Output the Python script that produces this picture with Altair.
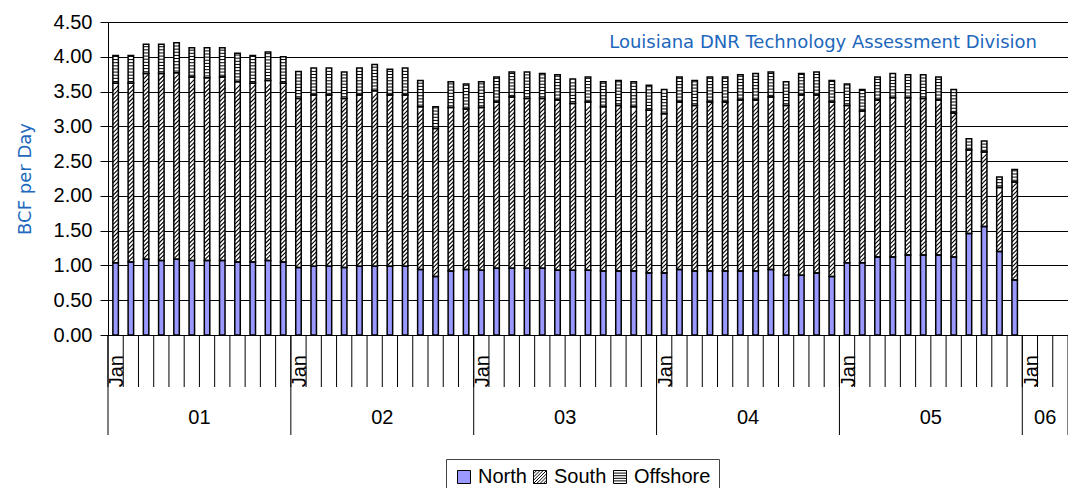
import altair as alt
import numpy as np
import pandas as pd

# ---------------- data ----------------
years = ["01", "02", "03", "04", "05", "06"]
months_per_year = [12, 12, 12, 12, 12, 3]
categories = [f"20{y}-{m:02d}" for y, n in zip(years, months_per_year) for m in range(1, n + 1)]
month_label = "Jan"

north = [1.04, 1.05, 1.09, 1.07, 1.09, 1.07, 1.07, 1.07, 1.05, 1.05, 1.07, 1.05,
         0.97, 0.99, 0.99, 0.97, 0.99, 0.99, 0.99, 0.99, 0.94, 0.84, 0.92, 0.94,
         0.93, 0.96, 0.96, 0.96, 0.96, 0.93, 0.93, 0.93, 0.92, 0.92, 0.92, 0.89,
         0.89, 0.94, 0.92, 0.92, 0.92, 0.92, 0.92, 0.94, 0.86, 0.86, 0.89, 0.84,
         1.04, 1.04, 1.12, 1.12, 1.15, 1.15, 1.15, 1.12, 1.46, 1.56, 1.20, 0.79]
south = [2.58, 2.57, 2.67, 2.69, 2.68, 2.64, 2.63, 2.64, 2.59, 2.57, 2.59, 2.57,
         2.43, 2.46, 2.46, 2.43, 2.46, 2.52, 2.46, 2.46, 2.34, 2.13, 2.35, 2.31,
         2.34, 2.39, 2.46, 2.44, 2.44, 2.45, 2.40, 2.42, 2.36, 2.38, 2.36, 2.34,
         2.29, 2.41, 2.38, 2.43, 2.43, 2.46, 2.46, 2.48, 2.44, 2.59, 2.56, 2.51,
         2.26, 2.18, 2.26, 2.29, 2.26, 2.25, 2.23, 2.07, 1.20, 1.07, 0.92, 1.41]
offshore = [0.40, 0.40, 0.42, 0.42, 0.43, 0.42, 0.43, 0.42, 0.41, 0.40, 0.41, 0.38,
            0.39, 0.39, 0.39, 0.38, 0.39, 0.38, 0.37, 0.39, 0.38, 0.31, 0.37, 0.36,
            0.37, 0.36, 0.36, 0.38, 0.36, 0.36, 0.35, 0.36, 0.36, 0.36, 0.36, 0.36,
            0.35, 0.36, 0.36, 0.36, 0.36, 0.36, 0.38, 0.36, 0.34, 0.31, 0.33, 0.31,
            0.31, 0.31, 0.33, 0.35, 0.33, 0.34, 0.33, 0.34, 0.16, 0.16, 0.15, 0.18]

series_names = ["North", "South", "Offshore"]
series_fill = ["#9999FF", "#FFFFFF", "#FFFFFF"]
y_tick_values = [0.0, 0.5, 1.0, 1.5, 2.0, 2.5, 3.0, 3.5, 4.0, 4.5]
title_text = "Louisiana DNR Technology Assessment Division"
y_title = "BCF per Day"

BLUE = "#2167BC"
FONT = "Liberation Sans"

# ---------------- derived tables ----------------
bar_rows = []
diag_rows = []
stripe_rows = []
for cat, n, s, o in zip(categories, north, south, offshore):
    base = 0.0
    for name, v in zip(series_names, (n, s, o)):
        bar_rows.append(dict(cat=cat, series=name, y0=base, y1=base + v))
        base += v
    for y in np.arange(n + 0.045, n + s - 0.045 + 1e-9, 0.06):
        diag_rows.append(dict(cat=cat, y1=float(y)))
    for y in np.arange(n + s + 0.025, n + s + o - 0.015, 0.045):
        stripe_rows.append(dict(cat=cat, y1=float(y)))

bars_df = pd.DataFrame(bar_rows)
diag_df = pd.DataFrame(diag_rows)
stripe_df = pd.DataFrame(stripe_rows)
legend_df = pd.DataFrame(dict(cat=[categories[0]] * 3, y1=[0.5] * 3, series=series_names))
tick_df = pd.DataFrame(dict(cat=categories))
jan_df = pd.DataFrame(dict(cat=[f"20{y}-01" for y in years], label=[month_label] * len(years)))
sep_df = pd.DataFrame(dict(cat=[f"20{y}-01" for y in years]))
end_df = pd.DataFrame(dict(cat=[categories[-1]]))
yr_df = pd.DataFrame(dict(cat=[f"20{y}-07" for y in years[:-1]], label=years[:-1]))
yr06_df = pd.DataFrame(dict(cat=["2006-02"], label=[years[-1]]))
title_df = pd.DataFrame(dict(t=[title_text]))

# ---------------- scales / axes ----------------
x_scale = alt.Scale(type="band", domain=categories, paddingInner=0, paddingOuter=0)
y_scale = alt.Scale(domain=[0, 4.5], nice=False, zero=True)
fill_scale = alt.Scale(domain=series_names, range=series_fill)
stroke_scale = alt.Scale(domain=series_names, range=["#000000", "#000000", "#000000"])
shape_scale = alt.Scale(
    domain=series_names,
    range=[
        "square",
        "M-1,-1L1,-1L1,1L-1,1Z M-1,-0.5L-0.5,-1 M-1,0L0,-1 M-1,0.5L0.5,-1 M-1,1L1,-1 "
        "M-0.5,1L1,-0.5 M0,1L1,0 M0.5,1L1,0.5",
        "M-1,-1L1,-1L1,1L-1,1Z M-1,-0.6L1,-0.6 M-1,-0.2L1,-0.2 M-1,0.2L1,0.2 M-1,0.6L1,0.6",
    ],
)

y_axis = alt.Axis(
    title=y_title, values=y_tick_values, format=".2f", grid=True, gridColor="black", gridWidth=1,
    domainColor="black", tickColor="black", tickSize=8, labelFont=FONT,
    labelFontSize=20, labelColor="black", labelPadding=8, titleFont="DejaVu Sans",
    titleFontSize=18, titleFontWeight="normal", titleColor=BLUE, titlePadding=19,
)
legend = alt.Legend(
    title=None, orient="none", legendX=338, legendY=437, direction="horizontal",
    labelFont=FONT, labelFontSize=20, labelColor="black", symbolSize=169,
    symbolStrokeWidth=1, symbolOpacity=1, strokeColor="#444444",
    fillColor="white", padding=8, columnPadding=3, labelOffset=4,
)

BW = 5.5

X = alt.X("cat:N", scale=x_scale, axis=None)


def Y(field):
    return alt.Y(f"{field}:Q", scale=y_scale, axis=y_axis)


legend_layer = alt.Chart(legend_df).mark_point(filled=True, size=4, opacity=1, strokeWidth=1).encode(
    x=X,
    y=Y("y1"),
    fill=alt.Fill("series:N", scale=fill_scale, legend=legend),
    shape=alt.Shape("series:N", scale=shape_scale, legend=legend),
    stroke=alt.Stroke("series:N", scale=stroke_scale, legend=legend),
)

bars_fill = alt.Chart(bars_df).mark_bar(width=BW, strokeWidth=0).encode(
    x=X, y=Y("y1"), y2="y0:Q",
    fill=alt.Fill("series:N", scale=fill_scale, legend=legend),
)

diag_layer = alt.Chart(diag_df).mark_point(
    shape="M-1,1L1,-1", size=BW * BW, filled=False, stroke="black", strokeWidth=1.1, opacity=1
).encode(x=X, y=Y("y1"))

stripe_layer = alt.Chart(stripe_df).mark_tick(size=BW, thickness=1, color="black", opacity=1).encode(
    x=X, y=Y("y1")
)

bars_outline = alt.Chart(bars_df).mark_bar(width=BW, fillOpacity=0, stroke="black", strokeWidth=1.5).encode(
    x=X, y=Y("y1"), y2="y0:Q"
)

# category axis drawn from the same band scale
tick_layer = alt.Chart(tick_df).mark_rule(color="black", strokeWidth=1).encode(
    x=alt.X("cat:N", scale=x_scale, axis=None, bandPosition=0),
    y=alt.value(313), y2=alt.value(365),
)
sep_layer = alt.Chart(sep_df).mark_rule(color="black", strokeWidth=1).encode(
    x=alt.X("cat:N", scale=x_scale, axis=None, bandPosition=0),
    y=alt.value(313), y2=alt.value(413),
)
end_layer = alt.Chart(end_df).mark_rule(color="black", strokeWidth=1).encode(
    x=alt.X("cat:N", scale=x_scale, axis=None, bandPosition=1),
    y=alt.value(313), y2=alt.value(413),
)
jan_layer = alt.Chart(jan_df).mark_text(
    font=FONT, fontSize=20, color="black", angle=270, align="right", baseline="alphabetic"
).encode(
    x=alt.X("cat:N", scale=x_scale, axis=None, bandPosition=1),
    y=alt.value(333), text="label:N",
)

yr_layer = alt.Chart(yr_df).mark_text(font=FONT, fontSize=20, color="black", baseline="middle").encode(
    x=alt.X("cat:N", scale=x_scale, axis=None, bandPosition=0),
    y=alt.value(396), text="label:N",
)
yr06_layer = alt.Chart(yr06_df).mark_text(font=FONT, fontSize=20, color="black", baseline="middle").encode(
    x=alt.X("cat:N", scale=x_scale, axis=None, bandPosition=0.5),
    y=alt.value(396), text="label:N",
)

title_layer = alt.Chart(title_df).mark_text(
    font="DejaVu Sans", fontSize=18, color=BLUE, align="right", baseline="middle"
).encode(x=alt.value(929), y=alt.value(21), text="t:N")

chart = alt.layer(
    legend_layer, bars_fill, diag_layer, stripe_layer, bars_outline,
    tick_layer, sep_layer, end_layer, jan_layer, yr_layer, yr06_layer, title_layer,
).properties(
    width=960, height=313,
    padding={"left": 100, "top": 14, "right": 0, "bottom": 153},
    autosize=alt.AutoSizeParams(type="none"),
).configure_view(stroke=None).configure(background="white")

chart.save("out.html", embed_options={"renderer": "svg", "actions": False})
